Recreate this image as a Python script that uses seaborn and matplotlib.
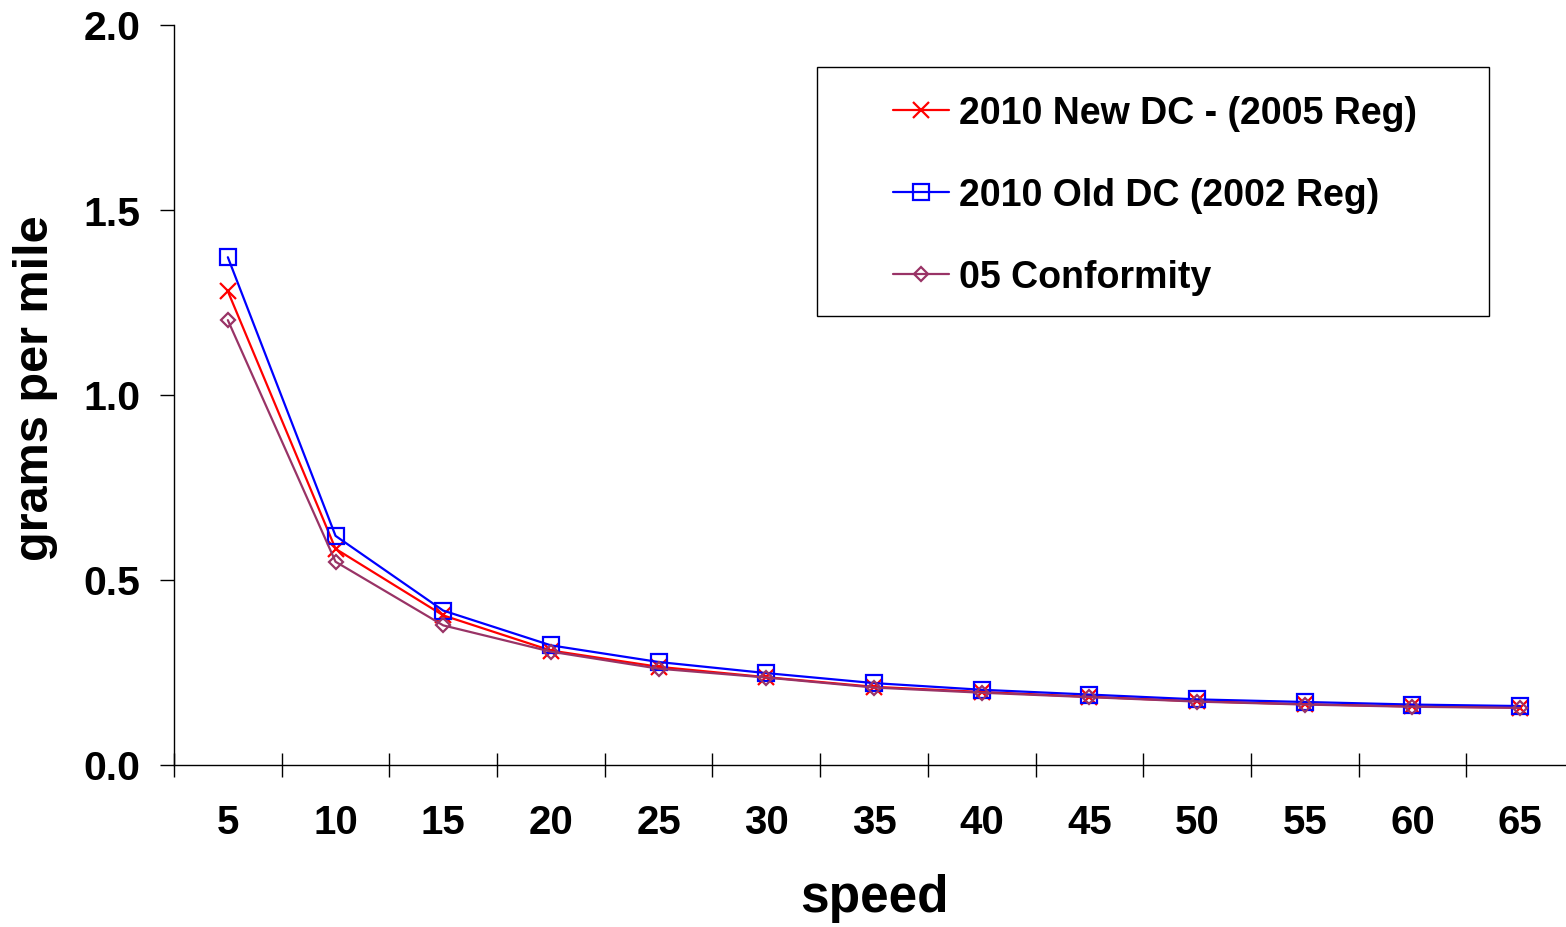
import numpy as np
import pandas as pd
import matplotlib
matplotlib.use("Agg")
import matplotlib.pyplot as plt
from matplotlib.patches import Rectangle
from matplotlib.ticker import FixedLocator, FormatStrFormatter
import seaborn as sns

speeds = [5, 10, 15, 20, 25, 30, 35, 40, 45, 50, 55, 60, 65]
new_dc_2005 = [1.279, 0.583, 0.403, 0.308, 0.264, 0.236, 0.210, 0.196, 0.183, 0.171, 0.163, 0.157, 0.154]
old_dc_2002 = [1.371, 0.618, 0.416, 0.322, 0.277, 0.247, 0.220, 0.202, 0.189, 0.176, 0.169, 0.162, 0.158]
conformity_05 = [1.201, 0.548, 0.376, 0.305, 0.259, 0.235, 0.208, 0.194, 0.182, 0.170, 0.162, 0.156, 0.153]
series_names = ["2010 New DC - (2005 Reg)", "2010 Old DC (2002 Reg)", "05 Conformity"]
colors = ["#FF0000", "#0000FF", "#993366"]
marker_styles = ["x", "s", "D"]
marker_sizes = [12, 11, 7]

sns.set_theme(style="white")
plt.rcParams["font.family"] = ["Liberation Sans", "DejaVu Sans"]
plt.rcParams["font.weight"] = "bold"
plt.rcParams["text.color"] = "black"
plt.rcParams["axes.labelcolor"] = "black"
plt.rcParams["xtick.color"] = "black"
plt.rcParams["ytick.color"] = "black"

fig = plt.figure(figsize=(15.66, 9.28), dpi=100)
ax = fig.add_axes([174 / 1566, (928 - 765.5) / 928, 1400 / 1566, 740 / 928])

for name, vals, c, m, ms in zip(series_names, [new_dc_2005, old_dc_2002, conformity_05],
                                colors, marker_styles, marker_sizes):
    d = pd.DataFrame({"speed": speeds, "gpm": vals})
    sns.lineplot(data=d, x="speed", y="gpm", color=c, marker=m, markersize=ms,
                 markerfacecolor="none", markeredgecolor=c, markeredgewidth=1.6,
                 linewidth=1.6, ax=ax, sort=False, label=name)

ax.set_xlim(2.5, 67.5)
ax.set_ylim(0, 2.0)
ax.set_yticks([0, 0.5, 1.0, 1.5, 2.0])
ax.yaxis.set_major_formatter(FormatStrFormatter("%.1f"))
ax.set_xticks(speeds)
ax.set_xticklabels([str(s) for s in speeds])
ax.xaxis.set_minor_locator(FixedLocator([2.5 + 5 * k for k in range(14)]))

for s in ["top", "right"]:
    ax.spines[s].set_visible(False)
for s in ["left", "bottom"]:
    ax.spines[s].set_color("black")
    ax.spines[s].set_linewidth(1.0)

ax.tick_params(axis="x", which="major", length=0, pad=28, labelsize=29, labelcolor="black")
ax.tick_params(axis="x", which="minor", direction="inout", length=17, width=1.0,
               color="black", bottom=True)
ax.tick_params(axis="y", which="major", direction="out", length=10, width=1.0,
               color="black", left=True, pad=14, labelsize=29.5, labelcolor="black")
for lab in ax.get_xticklabels() + ax.get_yticklabels():
    lab.set_fontweight("bold")

ax.set_xlabel("speed", fontsize=37, fontweight="bold", color="black", labelpad=23)
ax.set_ylabel("grams per mile", fontsize=35, fontweight="bold", color="black")
ax.yaxis.set_label_coords(-0.083, 0.51)

# Legend
fig.add_artist(Rectangle((817 / 1566, (928 - 317) / 928), 672 / 1566, 249 / 928,
                         transform=fig.transFigure, fill=False, edgecolor="black",
                         linewidth=1.0))
handles = list(ax.lines)[:3]
leg = ax.legend(handles=handles, labels=series_names, frameon=False,
                loc="center left", bbox_to_anchor=(893 / 1566, (928 - 196) / 928),
                bbox_transform=fig.transFigure, fontsize=27, handlelength=1.5,
                handletextpad=0.25, labelspacing=1.22, borderpad=0, borderaxespad=0)
for t in leg.get_texts():
    t.set_fontweight("bold")
    t.set_color("black")

fig.savefig("out.png", dpi=100, facecolor="white")
